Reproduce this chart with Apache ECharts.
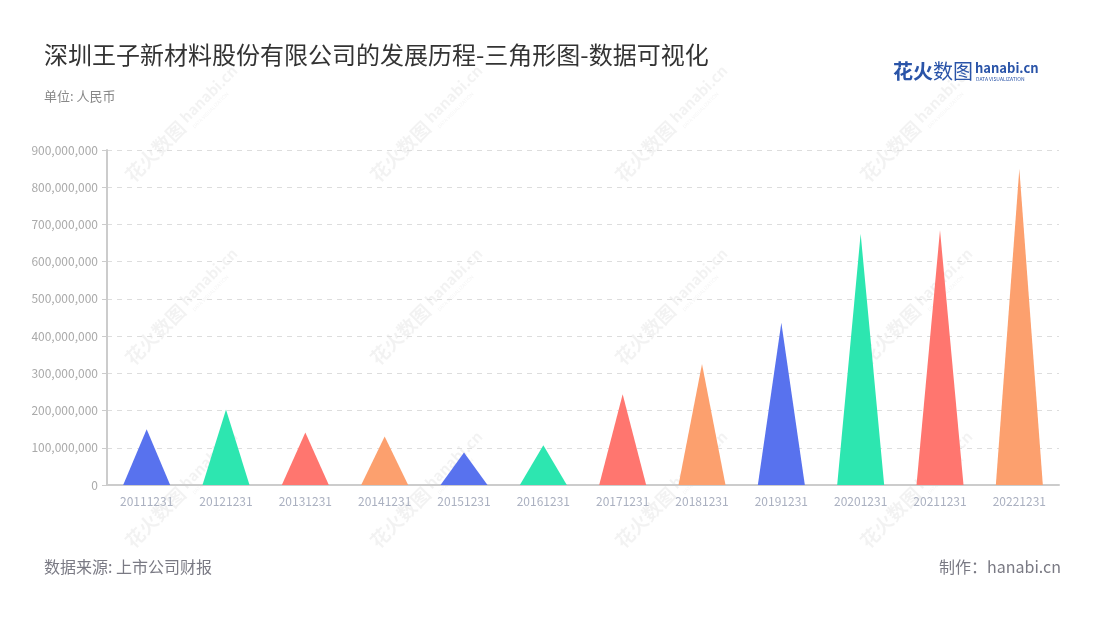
<!DOCTYPE html>
<html>
<head>
<meta charset="utf-8">
<script src="https://cdn.jsdelivr.net/npm/echarts@6/dist/echarts.min.js"></script>
<style>html,body{margin:0;padding:0;background:#fff}#c{width:1100px;height:620px}</style>
</head>
<body>
<div id="c"></div>
<script>
const categories = ['20111231','20121231','20131231','20141231','20151231','20161231','20171231','20181231','20191231','20201231','20211231','20221231'];
const values = [150000000, 203000000, 141000000, 130000000, 87000000, 107000000, 244000000, 325000000, 436000000, 675000000, 685000000, 849000000];
const palette = ['#5872EE', '#2DE6B0', '#FF766F', '#FCA06E'];
const yTicks = { min: 0, max: 900000000, interval: 100000000 };

const chart = echarts.init(document.getElementById('c'));
const FONT = '"Noto Sans CJK SC","Noto Sans",sans-serif';

// watermark graphics
const wm = [];
const wmCols = [135, 380, 625, 870];
const wmRows = [185, 368, 551];
wmCols.forEach(x => wmRows.forEach(y => {
  wm.push({
    type: 'group', x: x, y: y, rotation: Math.PI / 4, silent: true, z: 0,
    children: [
      { type: 'text', x: 0, y: 0, style: { text: '花火数图', fill: 'rgba(0,0,0,0.05)', font: 'bold 19px ' + FONT, textVerticalAlign: 'bottom' } },
      { type: 'text', x: 80, y: -5, style: { text: 'hanabi.cn', fill: 'rgba(0,0,0,0.05)', font: 'bold 15px ' + FONT, textVerticalAlign: 'bottom' } },
      { type: 'text', x: 82, y: 3, style: { text: 'DATA VISUALIZATION', fill: 'rgba(0,0,0,0.05)', font: '5px ' + FONT, textVerticalAlign: 'bottom' } }
    ]
  });
}));

chart.setOption({
  backgroundColor: '#fff',
  animation: false,
  title: [
    { text: '深圳王子新材料股份有限公司的发展历程-三角形图-数据可视化', left: 39, top: 38,
      textStyle: { fontSize: 24, fontWeight: 'normal', color: '#333', fontFamily: FONT } },
    { text: '单位: 人民币', left: 39, top: 85,
      textStyle: { fontSize: 13, fontWeight: 'normal', color: '#888', fontFamily: FONT } },
    { text: '数据来源: 上市公司财报', left: 39, top: 554,
      textStyle: { fontSize: 16, fontWeight: 'normal', color: '#7a7a84', fontFamily: FONT } },
    { text: '制作：hanabi.cn', right: 34, top: 554,
      textStyle: { fontSize: 16, fontWeight: 'normal', color: '#7a7a84', fontFamily: FONT } }
  ],
  graphic: wm.concat([
    { type: 'text', x: 893, y: 61, z: 10, style: { text: '花火', fill: '#2A54A8', font: 'bold 20px ' + FONT } },
    { type: 'text', x: 933, y: 61, z: 10, style: { text: '数图', fill: '#2A54A8', font: '20px ' + FONT } },
    { type: 'text', x: 975, y: 62, z: 10, style: { text: 'hanabi.cn', fill: '#2A54A8', font: 'bold 13px ' + FONT } },
    { type: 'text', x: 976, y: 77, z: 10, style: { text: 'DATA VISUALIZATION', fill: '#2A54A8', font: '5px ' + FONT } }
  ]),
  grid: { left: 107, right: 41, top: 150, bottom: 135 },
  xAxis: {
    type: 'category',
    data: categories,
    axisLine: { lineStyle: { color: '#ccc', width: 2 } },
    axisTick: { alignWithLabel: true, length: 5, lineStyle: { color: '#ccc' } },
    axisLabel: { color: '#aab0c0', fontSize: 12, margin: 10, fontFamily: FONT }
  },
  yAxis: {
    type: 'value',
    min: yTicks.min, max: yTicks.max, interval: yTicks.interval,
    axisLine: { show: true, lineStyle: { color: '#ccc', width: 2 } },
    axisTick: { show: true, length: 5, lineStyle: { color: '#ccc' } },
    axisLabel: { color: '#aaa', fontSize: 12, margin: 9, fontFamily: FONT,
      formatter: v => v.toLocaleString('en-US') },
    splitLine: { lineStyle: { color: '#ddd', type: [5, 5] } }
  },
  series: [{
    type: 'pictorialBar',
    symbol: 'path://M0,10 L5,0 L10,10 Z',
    barWidth: 47,
    z: 5,
    data: values.map((v, i) => ({ value: v, itemStyle: { color: palette[i % 4] } }))
  }]
});
</script>
</body>
</html>
